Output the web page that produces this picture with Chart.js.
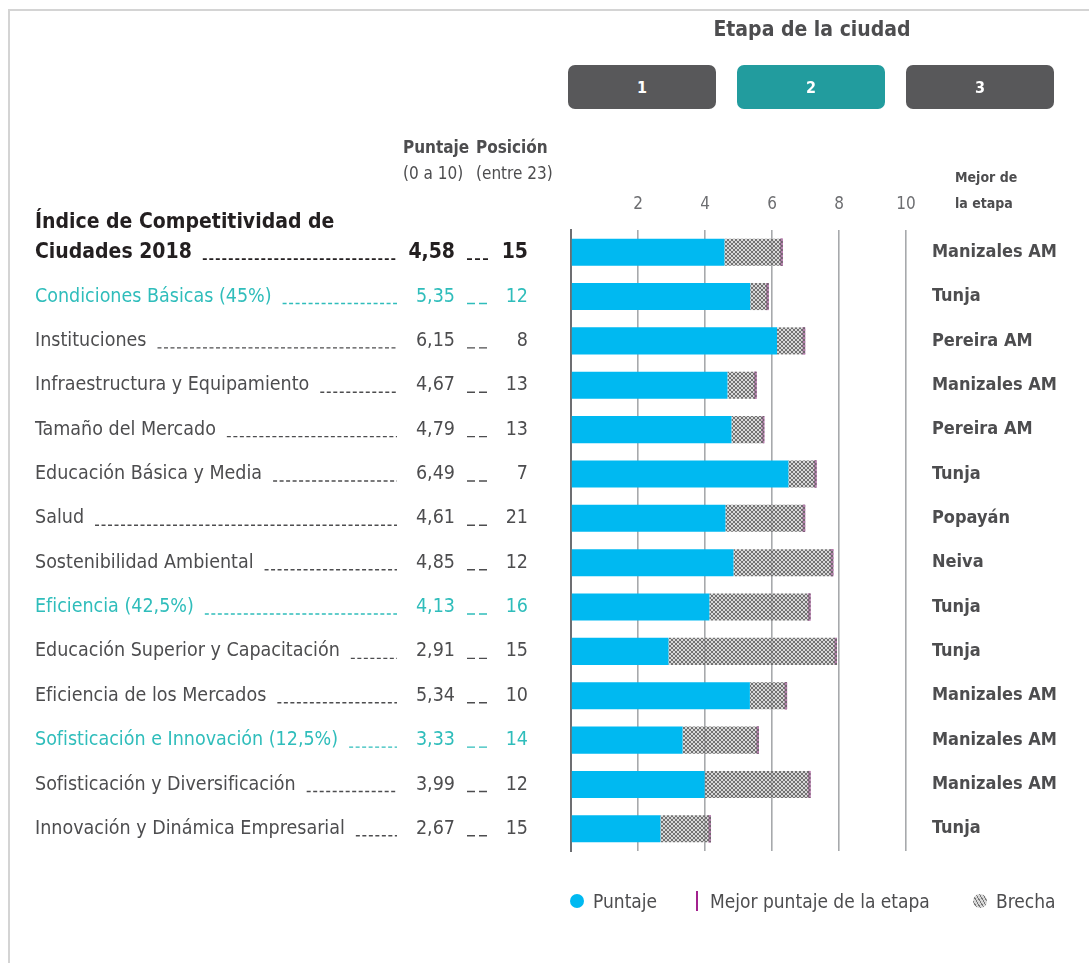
<!DOCTYPE html>
<html lang="es">
<head>
<meta charset="utf-8">
<title>Índice de Competitividad de Ciudades 2018</title>
<script src="https://cdn.jsdelivr.net/npm/chart.js@4.4.1/dist/chart.umd.min.js"></script>
<style>
  body { margin: 0; background: #fff; }
  #wrap {
    position: relative; width: 1089px; height: 963px; overflow: hidden;
    font-family: 'Liberation Sans Narrow', 'DejaVu Sans Condensed', 'Roboto', sans-serif;
    color: #4d4d4f;
  }
  #frame { position: absolute; left: 8px; top: 9px; right: -4px; bottom: -4px; border-top: 2px solid #d4d4d4; border-left: 2px solid #d4d4d4; }
  #chart { position: absolute; left: 0; top: 0; }
  .abs { position: absolute; white-space: nowrap; }
  .titulo { left: 712px; width: 200px; top: 17px; text-align: center; font-size: 21px; font-weight: bold; color: #4d4d4f; }
  .btn {
    position: absolute; top: 65px; width: 148px; height: 44px; border-radius: 7px;
    background: #58585a; color: #fff; font-size: 16px; font-weight: bold;
    display: flex; align-items: center; justify-content: center;
  }
  .btn.activo { background: #229c9e; }
  .col { font-size: 17px; line-height: 26px; }
  .col b { color: #4d4d4f; }
  .mejor { font-size: 14px; font-weight: bold; line-height: 26px; left: 955px; top: 164px; color: #4d4d4f; }
  .ley { top: 889px; font-size: 19px; line-height: 24px; }
  .punto { position: absolute; width: 14px; height: 14px; border-radius: 50%; top: 894px; }
</style>
</head>
<body>
<div id="wrap">
  <div id="frame"></div>
  <canvas id="chart" width="1089" height="963"></canvas>

  <div class="abs titulo">Etapa de la ciudad</div>
  <div class="btn" style="left:568px">1</div>
  <div class="btn activo" style="left:737px">2</div>
  <div class="btn" style="left:906px">3</div>

  <div class="abs col" style="left:403px; top:134px"><b>Puntaje</b><br>(0 a 10)</div>
  <div class="abs col" style="left:476px; top:134px"><b>Posición</b><br>(entre 23)</div>
  <div class="abs mejor">Mejor de<br>la etapa</div>

  <div class="punto" style="left:570px; background:#00b9f1"></div>
  <div class="abs ley" style="left:593px">Puntaje</div>
  <div class="abs" style="left:696px; top:891px; width:2px; height:20px; background:#a3218e"></div>
  <div class="abs ley" style="left:710px">Mejor puntaje de la etapa</div>
  <div class="punto" style="left:973px; background:repeating-linear-gradient(60deg,#777 0 1px,#d8d8d8 1px 3px)"></div>
  <div class="abs ley" style="left:996px">Brecha</div>
</div>

<script>
// Filas del índice (el primer renglón es el total, en dos líneas)
const filas = [
  'Índice de Competitividad de\nCiudades 2018',
  'Condiciones Básicas (45%)',
  'Instituciones',
  'Infraestructura y Equipamiento',
  'Tamaño del Mercado',
  'Educación Básica y Media',
  'Salud',
  'Sostenibilidad Ambiental',
  'Eficiencia (42,5%)',
  'Educación Superior y Capacitación',
  'Eficiencia de los Mercados',
  'Sofisticación e Innovación (12,5%)',
  'Sofisticación y Diversificación',
  'Innovación y Dinámica Empresarial'
];
const tipoFila = ['total', 'pilar', 'factor', 'factor', 'factor', 'factor', 'factor', 'factor',
  'pilar', 'factor', 'factor', 'pilar', 'factor', 'factor'];
const puntaje = [4.58, 5.35, 6.15, 4.67, 4.79, 6.49, 4.61, 4.85, 4.13, 2.91, 5.34, 3.33, 3.99, 2.67];
const posicion = [15, 12, 8, 13, 13, 7, 21, 12, 16, 15, 10, 14, 12, 15];
const mejorPuntaje = [6.32, 5.90, 6.99, 5.54, 5.77, 7.33, 6.99, 7.83, 7.15, 7.94, 6.45, 5.61, 7.15, 4.18];
const mejorCiudad = ['Manizales AM', 'Tunja', 'Pereira AM', 'Manizales AM', 'Pereira AM', 'Tunja', 'Popayán',
  'Neiva', 'Tunja', 'Tunja', 'Manizales AM', 'Manizales AM', 'Manizales AM', 'Tunja'];
const ticksX = [0, 2, 4, 6, 8, 10];

const FUENTE = "'Liberation Sans Narrow', 'DejaVu Sans Condensed', 'Roboto', sans-serif";
const AZUL = '#00b9f1';
const MORADO = '#a3218e';
const TEAL = '#2fbdbb';
const GRIS = '#4d4d4f';
const NEGRO = '#231f20';

// trama cruzada para la brecha
function trama() {
  const c = document.createElement('canvas');
  c.width = 4; c.height = 4;
  const g = c.getContext('2d');
  g.fillStyle = 'rgba(190,190,190,0.6)';
  g.fillRect(0, 0, 4, 4);
  g.strokeStyle = '#666';
  g.lineWidth = 0.9;
  g.beginPath();
  g.moveTo(0, 0); g.lineTo(4, 4);
  g.moveTo(0, 4); g.lineTo(4, 0);
  g.stroke();
  return g.createPattern(c, 'repeat');
}

function guiones(ctx, x0, x1, yy, color, ancho, patron) {
  ctx.beginPath();
  ctx.setLineDash(patron);
  ctx.lineWidth = ancho;
  ctx.strokeStyle = color;
  ctx.moveTo(x0, yy);
  ctx.lineTo(x1, yy);
  ctx.stroke();
  ctx.setLineDash([]);
}

const fmt = v => v.toFixed(2).replace('.', ',');

// columnas de texto a la izquierda y ciudad a la derecha de cada barra
const textoFilas = {
  id: 'textoFilas',
  afterDraw(chart) {
    const { ctx, scales: { y } } = chart;
    ctx.save();
    ctx.textBaseline = 'middle';
    filas.forEach((nombre, i) => {
      const cy = y.getPixelForValue(i);
      const tipo = tipoFila[i];
      const color = tipo === 'pilar' ? TEAL : (tipo === 'total' ? NEGRO : GRIS);
      const peso = tipo === 'total' ? 'bold ' : '';
      const tam = tipo === 'total' ? 21 : 19.5;
      ctx.font = `${peso}${tam}px ${FUENTE}`;
      ctx.fillStyle = color;
      ctx.textAlign = 'left';
      const lineas = nombre.split('\n');
      if (lineas.length > 1) ctx.fillText(lineas[0], 35, cy - 30);
      const ult = lineas[lineas.length - 1];
      ctx.fillText(ult, 35, cy);
      const fin = 35 + ctx.measureText(ult).width;
      const baseY = cy + 7;
      const grosor = tipo === 'total' ? 1.8 : 1.4;
      guiones(ctx, fin + 11, 397, baseY, color, grosor, [4, 2.5]);

      ctx.textAlign = 'right';
      ctx.fillText(fmt(puntaje[i]), 455, cy);
      guiones(ctx, 467, 489, baseY, color, grosor, tipo === 'total' ? [5, 3] : [8, 4]);
      ctx.fillText(String(posicion[i]), 528, cy);

      ctx.textAlign = 'left';
      ctx.font = `bold 18px ${FUENTE}`;
      ctx.fillStyle = GRIS;
      ctx.fillText(mejorCiudad[i], 932, cy);
    });
    ctx.restore();
  }
};

const ctx = document.getElementById('chart').getContext('2d');
const brecha = trama();

new Chart(ctx, {
  type: 'bar',
  data: {
    labels: filas.map(f => f.replace('\n', ' ')),
    datasets: [
      { label: 'Puntaje', data: puntaje.map(v => [0, v]), backgroundColor: AZUL },
      { label: 'Brecha', data: puntaje.map((v, i) => [v, mejorPuntaje[i]]), backgroundColor: brecha },
      { label: 'Mejor puntaje de la etapa', data: mejorPuntaje.map(v => [v - 0.08, v]), backgroundColor: MORADO }
    ]
  },
  options: {
    indexAxis: 'y',
    responsive: false,
    animation: false,
    layout: { padding: { left: 571, right: 183, top: 170, bottom: 112 } },
    datasets: { bar: { grouped: false, categoryPercentage: 1, barPercentage: 0.61, borderWidth: 0 } },
    plugins: { legend: { display: false }, tooltip: { enabled: false } },
    scales: {
      x: {
        type: 'linear',
        position: 'top',
        min: ticksX[0],
        max: ticksX[ticksX.length - 1],
        afterBuildTicks: s => { s.ticks = ticksX.map(v => ({ value: v })); },
        afterFit: s => { s.height = 60; },
        ticks: {
          color: '#6d6e71',
          font: { size: 17, family: FUENTE },
          padding: 15,
          callback: v => (v === 0 ? '' : v)
        },
        grid: {
          drawTicks: false,
          lineWidth: 1.6,
          color: c => (c.tick && c.tick.value === 0 ? 'rgba(0,0,0,0)' : '#a7a9ac')
        },
        border: { display: false }
      },
      y: {
        ticks: { display: false },
        grid: { display: false },
        afterFit: s => { s.width = 0; },
        border: { display: true, color: '#6d6e71', width: 2 }
      }
    }
  },
  plugins: [textoFilas]
});
</script>
</body>
</html>
